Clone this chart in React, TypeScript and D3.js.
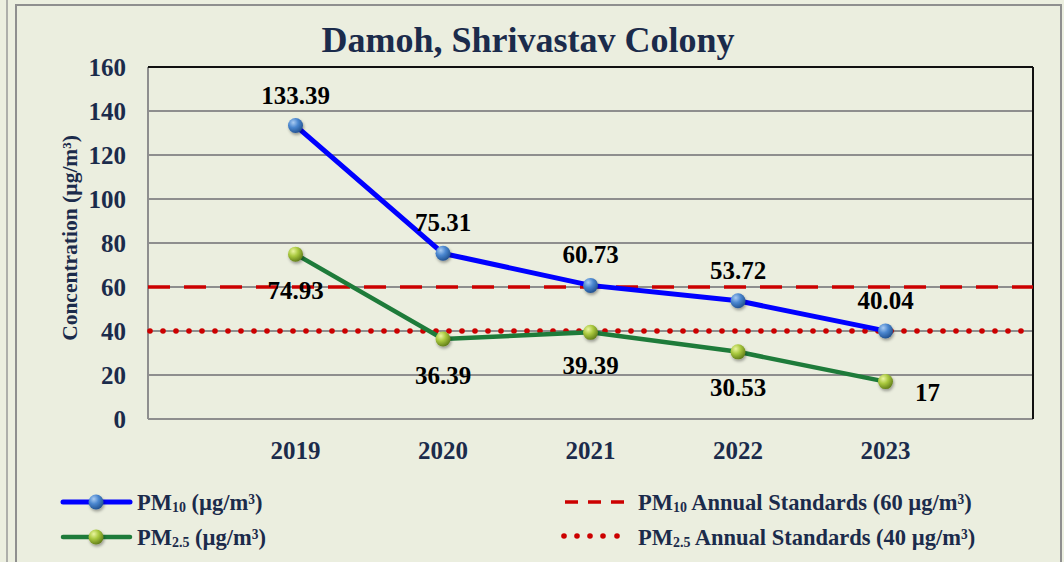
import React from "react";
import * as d3 from "d3";

const years = ["2019", "2020", "2021", "2022", "2023"];
const pm10 = [133.39, 75.31, 60.73, 53.72, 40.04];
const pm25 = [74.93, 36.39, 39.39, 30.53, 17];
const pm10Std = 60;
const pm25Std = 40;
const yTicks = [0, 20, 40, 60, 80, 100, 120, 140, 160];
const pm25LabelOffsets: [number, number][] = [[0, 45], [0, 45], [0, 42], [0, 44], [42, 19]];

const W = 1064, H = 562;
const plot = { l: 148, r: 1033, t: 67, b: 419 };
const font = "'Liberation Serif', 'Times New Roman', serif";
const navy = "#1B2B4B";

function Sub({ t }: { t: string }) {
  return <tspan fontSize="0.62em" dy={2}>{t}</tspan>;
}

export default function App() {
  const x = d3.scaleLinear().domain([0, years.length + 1]).range([plot.l, plot.r]);
  const y = d3.scaleLinear().domain([0, 160]).range([plot.b, plot.t]);
  const line = d3.line<number>().x((_, i) => x(i + 1)).y((d) => y(d));
  const dots = d3.range(plot.l + 2, plot.r, 13);

  return (
    <svg width={W} height={H} style={{ position: "absolute", left: 0, top: 0 }} fontFamily={font}>
      <defs>
        <radialGradient id="gBlue" cx="35%" cy="30%" r="75%">
          <stop offset="0%" stopColor="#A9CBF2" />
          <stop offset="45%" stopColor="#4A86CF" />
          <stop offset="100%" stopColor="#1F4E8C" />
        </radialGradient>
        <radialGradient id="gGreen" cx="35%" cy="30%" r="75%">
          <stop offset="0%" stopColor="#EAF5A0" />
          <stop offset="45%" stopColor="#A9C83E" />
          <stop offset="100%" stopColor="#5E7A18" />
        </radialGradient>
        <filter id="sh" x="-50%" y="-50%" width="200%" height="200%">
          <feDropShadow dx={1} dy={2} stdDeviation={1.5} floodColor="#000" floodOpacity={0.35} />
        </filter>
      </defs>
      <rect x={0} y={0} width={W} height={H} fill="#ECEFE0" />
      <line x1={7} y1={0} x2={7} y2={H} stroke="#9a9a9a" strokeWidth={1.5} />
      <rect x={16} y={5} width={1045} height={H} fill="#EBEEDF" stroke="#8f8f8f" strokeWidth={2} />
      <text x={528} y={52} textAnchor="middle" fontSize={36} fontWeight="bold" fill={navy}>
        Damoh, Shrivastav Colony
      </text>
      {yTicks.map((t) => (
        <line key={t} x1={plot.l} x2={plot.r} y1={y(t)} y2={y(t)} stroke="#8E8E8E" strokeWidth={2} />
      ))}
      <line x1={plot.l} x2={plot.l} y1={plot.t} y2={plot.b} stroke="#8E8E8E" strokeWidth={2} />
      <line x1={plot.l} x2={plot.r} y1={plot.t} y2={plot.t} stroke="#111" strokeWidth={2} />
      <line x1={plot.r} x2={plot.r} y1={plot.t} y2={plot.b} stroke="#111" strokeWidth={2} />
      {yTicks.map((t) => (
        <text key={t} x={126} y={y(t) + 9} textAnchor="end" fontSize={25} fontWeight="bold" fill={navy}>
          {t}
        </text>
      ))}
      <text
        transform={`translate(77,238) rotate(-90)`}
        textAnchor="middle"
        fontSize={21.5}
        fontWeight="bold"
        fill={navy}
      >
        Concentration (µg/m³)
      </text>
      {years.map((yr, i) => (
        <text key={yr} x={x(i + 1)} y={459} textAnchor="middle" fontSize={25} fontWeight="bold" fill={navy}>
          {yr}
        </text>
      ))}
      <line x1={plot.l} x2={plot.r} y1={y(pm10Std)} y2={y(pm10Std)} stroke="#CC0000" strokeWidth={3.5} strokeDasharray="22 14" />
      {dots.map((d) => (
        <circle key={d} cx={d} cy={y(pm25Std)} r={2.8} fill="#CC0000" />
      ))}
      <path d={line(pm10) || ""} fill="none" stroke="#0000FF" strokeWidth={5} />
      <path d={line(pm25) || ""} fill="none" stroke="#1E7B3A" strokeWidth={4.5} />
      {pm10.map((v, i) => (
        <circle key={"a" + i} cx={x(i + 1)} cy={y(v)} r={7.5} fill="url(#gBlue)" filter="url(#sh)" />
      ))}
      {pm25.map((v, i) => (
        <circle key={"b" + i} cx={x(i + 1)} cy={y(v)} r={7.5} fill="url(#gGreen)" filter="url(#sh)" />
      ))}
      {pm10.map((v, i) => (
        <text key={"la" + i} x={x(i + 1)} y={y(v) - 22} textAnchor="middle" fontSize={25} fontWeight="bold" fill="#000">
          {v.toFixed(2)}
        </text>
      ))}
      {pm25.map((v, i) => (
        <text
          key={"lb" + i}
          x={x(i + 1) + pm25LabelOffsets[i][0]}
          y={y(v) + pm25LabelOffsets[i][1]}
          textAnchor="middle"
          fontSize={25}
          fontWeight="bold"
          fill="#000"
        >
          {String(v)}
        </text>
      ))}
      <g fontSize={22.5} fontWeight="bold" fill={navy}>
        <line x1={63} x2={130} y1={502} y2={502} stroke="#0000FF" strokeWidth={5} strokeLinecap="round" />
        <circle cx={96} cy={502} r={7.5} fill="url(#gBlue)" filter="url(#sh)" />
        <text x={137} y={510}>PM<Sub t="10" /><tspan dy={-2}> (µg/m³)</tspan></text>
        <line x1={63} x2={130} y1={537} y2={537} stroke="#1E7B3A" strokeWidth={4.5} strokeLinecap="round" />
        <circle cx={96} cy={537} r={7.5} fill="url(#gGreen)" filter="url(#sh)" />
        <text x={137} y={545}>PM<Sub t="2.5" /><tspan dy={-2}> (µg/m³)</tspan></text>
        <line x1={565} x2={632} y1={502} y2={502} stroke="#CC0000" strokeWidth={3.5} strokeDasharray="13 10" />
        <text x={638} y={510}>PM<Sub t="10" /><tspan dy={-2}> Annual Standards (60 µg/m³)</tspan></text>
        {[564, 577, 590, 603, 617].map((d) => (
          <circle key={d} cx={d} cy={536} r={2.8} fill="#CC0000" />
        ))}
        <text x={638} y={545}>PM<Sub t="2.5" /><tspan dy={-2}> Annual Standards (40 µg/m³)</tspan></text>
      </g>
    </svg>
  );
}
